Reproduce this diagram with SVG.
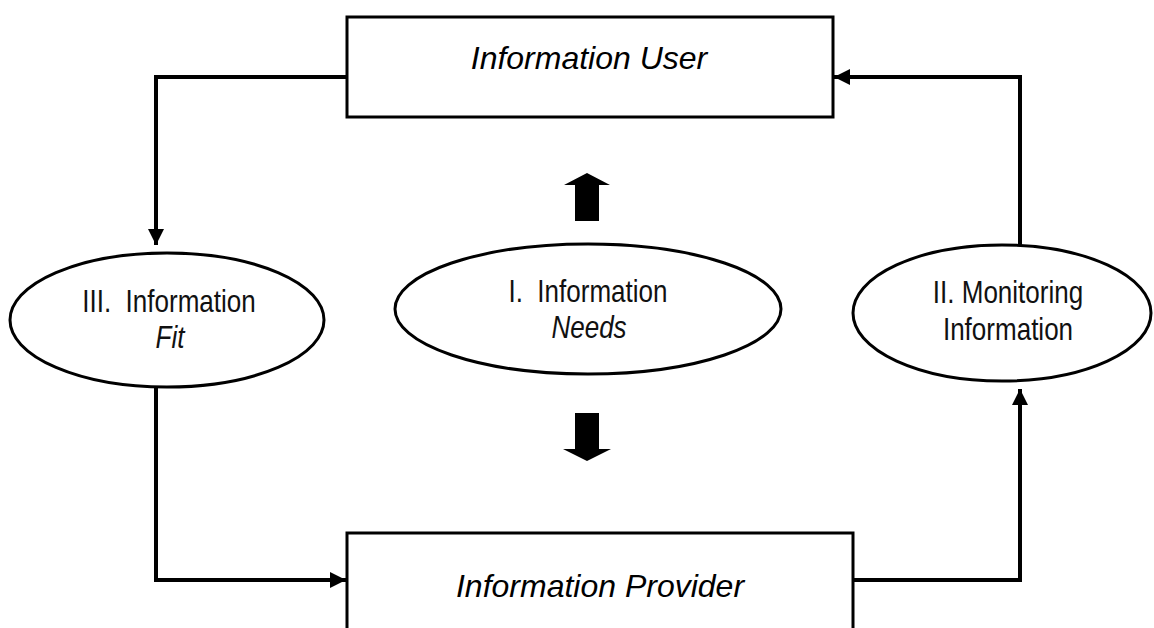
<svg xmlns="http://www.w3.org/2000/svg" width="1154" height="628" viewBox="0 0 1154 628">
  <style>
    .box { fill: #ffffff; stroke: #000000; stroke-width: 3; }
    .oval { fill: #ffffff; stroke: #000000; stroke-width: 3; }
    .title { font-family: "Liberation Sans", Arial, sans-serif; font-style: italic; font-size: 32px; fill: #000000; }
    .label { font-family: "Liberation Sans Narrow", "Liberation Sans", Arial, sans-serif; font-size: 31px; fill: #111111; white-space: pre; }
    .em { font-style: italic; }
    .wire { fill: none; stroke: #000000; stroke-width: 4; stroke-linejoin: miter; }
    .block { fill: #000000; }
  </style>
  <defs>
    <marker id="head" viewBox="0 0 10 10" refX="10" refY="5" markerWidth="4" markerHeight="4" markerUnits="strokeWidth" orient="auto">
      <path d="M0,0 L10,5 L0,10 Z" fill="#000000"/>
    </marker>
  </defs>

  <rect width="1154" height="628" fill="#ffffff"/>

  <!-- connectors between the stages -->
  <g id="connectors">
    <path class="wire" d="M347,77 H156 V245" marker-end="url(#head)"/>
    <path class="wire" d="M156,386 V580 H346" marker-end="url(#head)"/>
    <path class="wire" d="M853,580 H1020 V389" marker-end="url(#head)"/>
    <path class="wire" d="M1020,246 V77 H834" marker-end="url(#head)"/>
    <path class="block" d="M587,173 L610,185 L599,185 L599,221 L575,221 L575,185 L564,185 Z"/>
    <path class="block" d="M575,413 L599,413 L599,449 L611,449 L587,461 L563,449 L575,449 Z"/>
  </g>

  <g id="information-user">
    <rect class="box" x="347" y="17" width="486" height="100"/>
    <text class="title" x="589" y="69" text-anchor="middle">Information User</text>
  </g>

  <g id="information-provider">
    <rect class="box" x="347" y="533" width="506" height="110"/>
    <text class="title" x="600" y="597" text-anchor="middle">Information Provider</text>
  </g>

  <g id="information-fit">
    <ellipse class="oval" cx="167" cy="320" rx="157" ry="67"/>
    <text class="label" transform="translate(169,312) scale(0.84,1)" text-anchor="middle" xml:space="preserve">III.  Information</text>
    <text class="label em" transform="translate(170,348) scale(0.84,1)" text-anchor="middle">Fit</text>
  </g>

  <g id="information-needs">
    <ellipse class="oval" cx="588" cy="309" rx="193" ry="65"/>
    <text class="label" transform="translate(588,302) scale(0.84,1)" text-anchor="middle" xml:space="preserve">I.  Information</text>
    <text class="label em" transform="translate(589,338) scale(0.84,1)" text-anchor="middle">Needs</text>
  </g>

  <g id="monitoring-information">
    <ellipse class="oval" cx="1002" cy="313" rx="149" ry="68"/>
    <text class="label" transform="translate(1008,303) scale(0.84,1)" text-anchor="middle">II. Monitoring</text>
    <text class="label" transform="translate(1008,340) scale(0.84,1)" text-anchor="middle">Information</text>
  </g>
</svg>
